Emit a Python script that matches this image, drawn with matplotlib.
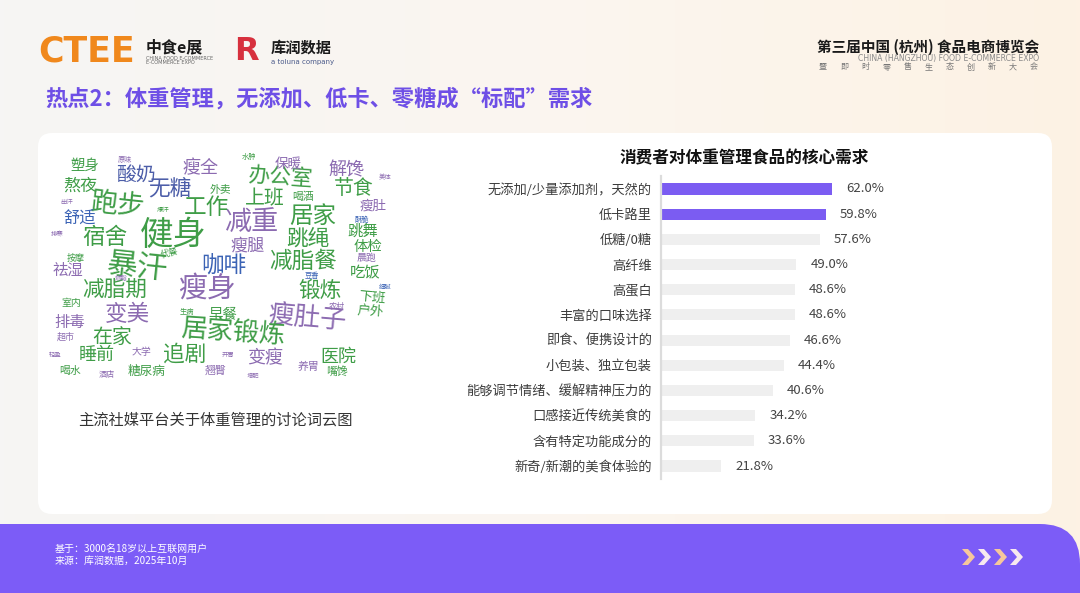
import matplotlib
matplotlib.use("Agg")
import matplotlib.pyplot as plt
import numpy as np
from matplotlib.patches import FancyBboxPatch, Polygon
from matplotlib.colors import LinearSegmentedColormap

plt.rcParams['font.family'] = ['Noto Sans CJK SC', 'DejaVu Sans']

# ---------------- data ----------------
categories = ["无添加/少量添加剂，天然的", "低卡路里", "低糖/0糖", "高纤维", "高蛋白",
              "丰富的口味选择", "即食、便携设计的", "小包装、独立包装",
              "能够调节情绪、缓解精神压力的", "口感接近传统美食的",
              "含有特定功能成分的", "新奇/新潮的美食体验的"]
values = [62.0, 59.8, 57.6, 49.0, 48.6, 48.6, 46.6, 44.4, 40.6, 34.2, 33.6, 21.8]
highlighted = [True, True, False, False, False, False, False, False, False, False, False, False]

chart_title = "消费者对体重管理食品的核心需求"
page_title = "热点2：体重管理，无添加、低卡、零糖成“标配”需求"
cloud_caption = "主流社媒平台关于体重管理的讨论词云图"
footnote_lines = ["基于：3000名18岁以上互联网用户", "来源：库润数据，2025年10月"]

# word cloud words and their weights (relative size)
cloud_words = ["健身", "暴汗", "瘦身", "减重", "瘦肚子", "居家锻炼", "跑步", "工作", "居家", "宿舍",
               "减脂餐", "咖啡", "跳绳", "锻炼", "减脂期", "变美", "办公室", "上班", "追剧", "在家",
               "无糖", "酸奶", "节食", "变瘦", "医院", "瘦全", "解馋", "睡前", "熬夜", "瘦腿",
               "舒适", "塑身", "跳舞", "体检", "吃饭", "祛湿", "排毒", "早餐", "下班", "户外",
               "瘦肚", "保暖", "糖尿病", "外卖", "喝酒", "晨跑", "室内", "喝水", "翘臀", "养胃",
               "嘴馋", "大学", "超市", "按摩", "代餐", "豆香", "农村", "酒店", "生病", "原味",
               "水肿", "出汗", "爆汗", "酥脆", "排寒", "燃脂", "细腻", "美体", "轻盈", "开胃", "增肥"]
cloud_weights = [37, 34, 32, 30, 29, 29, 30, 25, 26, 25,
                 25, 25, 24, 24, 24, 25, 24, 22, 24, 22,
                 24, 22, 22, 20, 20, 20, 20, 20, 19, 19,
                 18, 16, 17, 16, 17, 17, 17, 16, 15, 15,
                 15, 15, 14, 12, 12, 11, 11, 12, 12, 12,
                 12, 11, 10, 10, 10, 8, 9, 9, 8, 8,
                 8, 7, 7, 8, 7, 7, 7, 7, 7, 7, 7]
cloud_groups = ["G", "G", "P", "P", "P", "G", "G", "G", "G", "G",
                "G", "B", "G", "G", "G", "P", "G", "G", "G", "G",
                "D", "D", "G", "P", "G", "P", "P", "G", "G", "P",
                "B", "G", "G", "G", "G", "P", "P", "G", "G", "G",
                "P", "P", "G", "G", "G", "P", "G", "G", "P", "P",
                "G", "P", "P", "G", "G", "B", "P", "P", "G", "P",
                "G", "P", "G", "B", "P", "P", "B", "P", "P", "P", "P"]

# ---------------- layout (pixel positions) ----------------
cloud_x = [173, 137, 207, 252, 307, 233, 117, 206, 313, 105,
           303, 224, 308, 320, 115, 127, 280, 265, 185, 112,
           170, 136, 354, 265, 338, 200, 346, 97, 80, 248,
           80, 85, 363, 368, 365, 68, 70, 223, 372, 370,
           373, 288, 147, 220, 303, 366, 71, 70, 216, 308,
           337, 141, 66, 76, 170, 312, 337, 107, 187, 125,
           249, 67, 163, 362, 57, 121, 385, 385, 55, 228, 253]
cloud_y = [235, 268, 289, 223, 318, 332, 205, 207, 216, 237,
           261.5, 265, 239, 291, 290, 315, 177, 199, 355, 337,
           190, 175, 189, 358, 357, 168, 170, 355, 186, 245,
           219, 166, 231, 247, 273, 270, 322, 315, 297, 311,
           206, 165, 371, 190, 197, 258, 303, 371, 371, 367,
           371, 352, 337, 258, 253, 276, 306, 374, 312, 160,
           157, 202, 210, 220, 234, 277, 287, 177, 355, 355, 376]
cloud_rot = {"跑步": -6, "暴汗": -6, "办公室": -4, "瘦肚子": -5, "居家锻炼": -4,
             "代餐": 15, "下班": -5, "户外": -4}
group_colors = {"G": "#3f9d47", "P": "#8c6bb1", "B": "#3b63b5", "D": "#4d5ea9"}

W, H = 1080, 593
fig = plt.figure(figsize=(W / 100, H / 100), dpi=100)
bg = fig.add_axes([0, 0, 1, 1])
bg.set_xlim(0, W)
bg.set_ylim(H, 0)
bg.axis('off')

# background gradient
cmap = LinearSegmentedColormap.from_list("bgc", ["#f6f5f4", "#fbf6f0", "#fdf2e4"])
grad = np.linspace(0, 1, 256).reshape(1, -1)
bg.imshow(grad, extent=[0, W, H, 0], aspect='auto', cmap=cmap, zorder=0)

# white panel
bg.add_patch(FancyBboxPatch((38, 133), 1014, 381, boxstyle="round,pad=0,rounding_size=14",
                            fc="white", ec="none", zorder=1))

# footer band (rounded top-right corner)
bg.add_patch(FancyBboxPatch((-80, 524), 80 + W, 150, boxstyle="round,pad=0,rounding_size=40",
                            fc="#7c5cf7", ec="none", zorder=2))

for i, line in enumerate(footnote_lines):
    bg.text(55, 549 + i * 12, line, fontsize=7.2, color="white", va="center", ha="left", zorder=3)

# chevrons
chev_cols = ["#f6c79b", "#f8e9ef", "#f6c79b", "#f8e9ef"]
for k, c in enumerate(chev_cols):
    x0 = 962 + k * 16
    yc, hh, t, d = 557, 8, 6, 7
    pts = [(x0, yc - hh), (x0 + t, yc - hh), (x0 + t + d, yc), (x0 + t, yc + hh), (x0, yc + hh), (x0 + d, yc)]
    bg.add_patch(Polygon(pts, closed=True, fc=c, ec="none", zorder=3))

# header logos
bg.text(38, 52, "CTEE", fontsize=25, fontweight="bold", color="#f0881c", family="DejaVu Sans",
        va="center", ha="left", zorder=3)
bg.text(146, 47, "中食e展", fontsize=11.5, fontweight="bold", color="#1a1a1a", va="center", ha="left", zorder=3)
bg.text(146, 58, "CHINA FOOD E-COMMERCE", fontsize=3.6, color="#666666", va="center", ha="left",
        family="DejaVu Sans", zorder=3)
bg.text(146, 62.5, "E-COMMERCE EXPO", fontsize=3.6, color="#666666", va="center", ha="left",
        family="DejaVu Sans", zorder=3)
bg.text(234, 51, "R", fontsize=23, fontweight="bold", color="#d7303e", family="DejaVu Sans",
        va="center", ha="left", zorder=3)
bg.text(271, 48, "库润数据", fontsize=11, fontweight="bold", color="#1a1a1a", va="center", ha="left", zorder=3)
bg.text(271, 62, "a toluna company", fontsize=5, color="#4a5a8a", va="center", ha="left",
        family="DejaVu Sans", zorder=3)

bg.text(1039, 46.5, "第三届中国 (杭州) 食品电商博览会", fontsize=10.5, fontweight="bold", color="#1a1a1a",
        va="center", ha="right", zorder=3)
bg.text(1039, 59, "CHINA (HANGZHOU) FOOD E-COMMERCE EXPO", fontsize=5.6, color="#8a8a8a",
        va="center", ha="right", family="DejaVu Sans", zorder=3)
sub_chars = list("暨即时零售生态创新大会")
for xx, ch in zip(np.linspace(823, 1034, len(sub_chars)), sub_chars):
    bg.text(xx, 67, ch, fontsize=5.8, color="#777777", va="center", ha="center", zorder=3)

# page title
bg.text(45, 99, page_title, fontsize=16, fontweight="bold", color="#6e4fe6", va="center", ha="left", zorder=3)

# word cloud
for w, s, g, x, y in zip(cloud_words, cloud_weights, cloud_groups, cloud_x, cloud_y):
    bg.text(x, y, w, fontsize=s * 0.65, color=group_colors[g], ha="center", va="center",
            rotation=cloud_rot.get(w, 0), zorder=3)
bg.text(215, 420.5, cloud_caption, fontsize=11, color="#333333", ha="center", va="center", zorder=3)

# chart title
bg.text(744, 158, chart_title, fontsize=12, fontweight="bold", color="#111111", ha="center", va="center", zorder=3)

# ---------------- bar chart ----------------
ax_left, ax_right, ax_top, ax_bot = 661, 882, 176.4, 478.6
ax = fig.add_axes([ax_left / W, 1 - ax_bot / H, (ax_right - ax_left) / W, (ax_bot - ax_top) / H])
ax.patch.set_alpha(0)
ypos = np.arange(len(categories))
colors = ["#7b5cf2" if h else "#efefef" for h in highlighted]
ax.barh(ypos, values, height=0.44, color=colors, zorder=2)
ax.set_xlim(0, 80)
ax.set_ylim(len(categories) - 0.5, -0.5)
ax.set_yticks(ypos)
ax.set_yticklabels(categories, fontsize=9.5, color="#3c3c3c")
ax.tick_params(axis="y", length=0, pad=6.5)
ax.set_xticks([])
for side in ["top", "right", "bottom"]:
    ax.spines[side].set_visible(False)
ax.spines["left"].set_color("#dcdcdc")
ax.spines["left"].set_linewidth(1.6)
for yv, v in zip(ypos, values):
    ax.annotate(f"{v:.1f}%", (v, yv), xytext=(10, 0), textcoords="offset points",
                va="center", ha="left", fontsize=9.5, color="#444444")

fig.savefig("out.png", dpi=100)
